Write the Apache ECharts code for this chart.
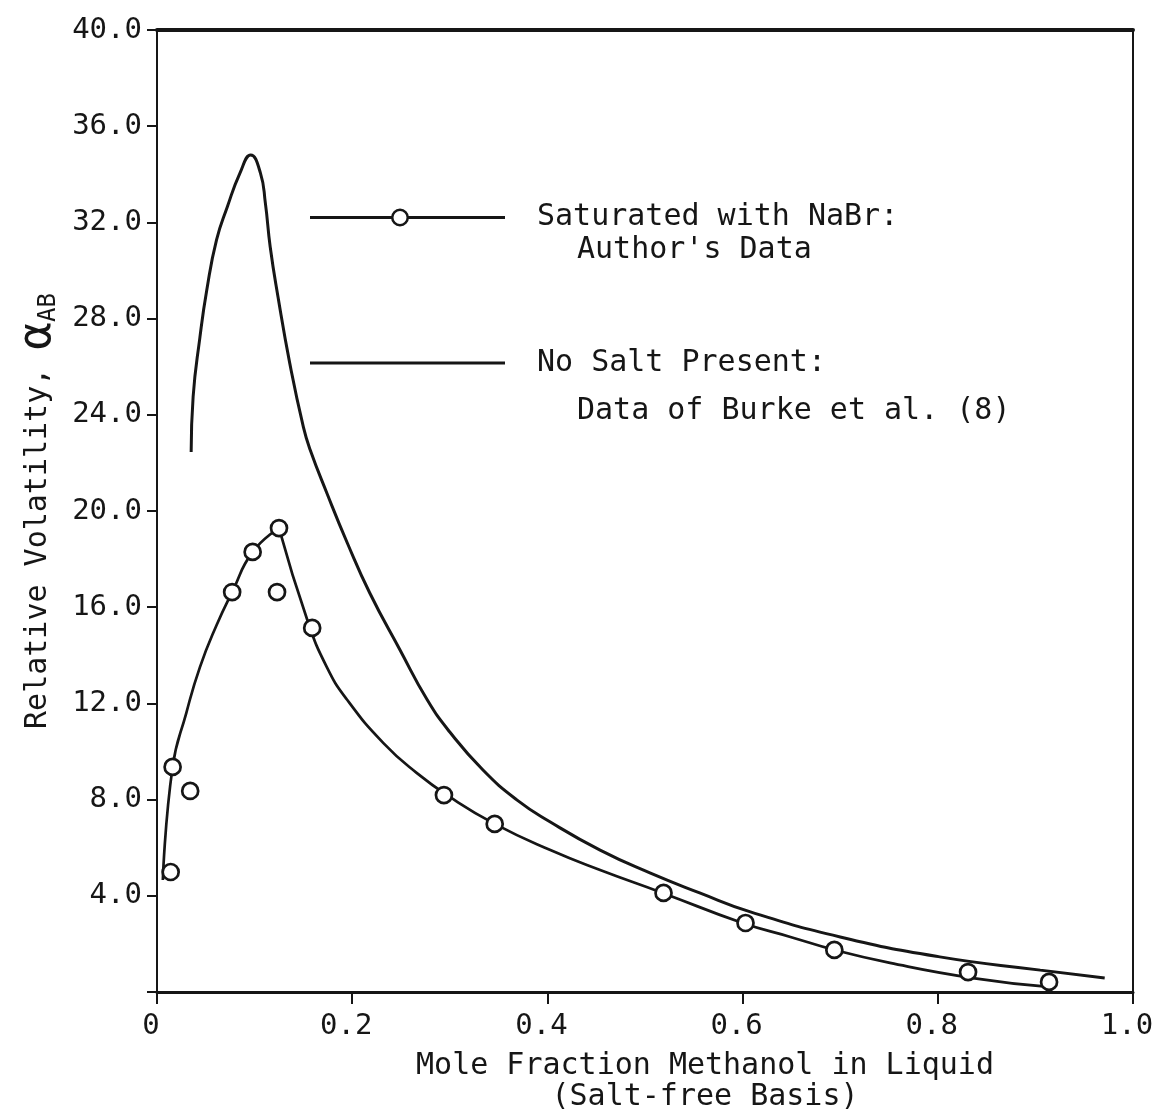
<!DOCTYPE html>
<html><head><meta charset="utf-8">
<script src="https://cdn.jsdelivr.net/npm/echarts@6/dist/echarts.min.js"></script>
<style>html,body{margin:0;padding:0;background:#fff;overflow:hidden}#c{width:1155px;height:1119px}</style>
</head><body><div id="c"></div>
<script>
// ---- tick labels ----
const xTickLabels = ['0', '0.2', '0.4', '0.6', '0.8', '1.0'];
const yTickLabels = ['', '4.0', '8.0', '12.0', '16.0', '20.0', '24.0', '28.0', '32.0', '36.0', '40.0'];

// ---- Saturated with NaBr: measured points ----
const nabrX = [0.014, 0.016, 0.034, 0.077, 0.098, 0.125, 0.123, 0.159, 0.294, 0.346, 0.519, 0.603, 0.694, 0.831, 0.914];
const nabrY = [4.99, 9.36, 8.36, 16.63, 18.30, 19.29, 16.63, 15.14, 8.19, 6.99, 4.12, 2.87, 1.75, 0.83, 0.42];

// ---- Saturated with NaBr: drawn curve (rising branch, falling branch) ----
const nabrRiseX = [0.006, 0.016, 0.030, 0.044, 0.061, 0.077, 0.098, 0.125];
const nabrRiseY = [4.66, 9.36, 11.60, 13.51, 15.25, 16.63, 18.30, 19.29];
const nabrFallX = [0.125, 0.154, 0.174, 0.195, 0.232, 0.266, 0.300, 0.346, 0.403, 0.454, 0.518, 0.600, 0.649, 0.694, 0.751, 0.836, 0.914];
const nabrFallY = [19.29, 15.47, 13.51, 12.14, 10.35, 9.11, 8.11, 6.99, 5.90, 5.07, 4.12, 2.87, 2.29, 1.75, 1.21, 0.58, 0.21];

// ---- No salt present: Burke et al. curve ----
const noSaltX = [0.035, 0.037, 0.044, 0.051, 0.061, 0.072, 0.085, 0.096, 0.106, 0.111, 0.116, 0.124, 0.136, 0.150, 0.157, 0.174, 0.195, 0.218, 0.249, 0.277, 0.300, 0.334, 0.369, 0.403, 0.454, 0.505, 0.556, 0.608, 0.700, 0.802, 0.905, 0.971];
const noSaltY = [22.45, 24.74, 27.23, 29.19, 31.27, 32.64, 34.05, 34.80, 34.05, 32.81, 30.98, 28.90, 26.15, 23.49, 22.54, 20.75, 18.67, 16.59, 14.22, 12.14, 10.81, 9.23, 7.98, 7.07, 5.90, 4.95, 4.12, 3.33, 2.29, 1.46, 0.91, 0.58];

const zip = (xs, ys) => xs.map((x, i) => [x, ys[i]]);
const FONT = 'DejaVu Sans Mono';
const INK = '#161616';
const NABR = 'Saturated with NaBr';
const NOSALT = 'No Salt Present';

const chart = echarts.init(document.getElementById('c'), null, {renderer: 'canvas'});
chart.setOption({
  backgroundColor: '#ffffff',
  animation: false,
  textStyle: {fontFamily: FONT, color: INK},
  grid: {left: 157, right: 22, top: 30, bottom: 127, containLabel: false, outerBoundsMode: 'none',
         show: true, borderColor: INK, borderWidth: 2, backgroundColor: 'transparent'},
  legend: [
    {
      data: [{name: NABR, icon: 'path://M0,8.5 L82,8.5 L82,11.5 L0,11.5 Z M98,8.5 L195,8.5 L195,11.5 L98,11.5 Z M81,10 A9,9 0 1,1 99,10 A9,9 0 1,1 81,10 Z M83.5,10 A6.5,6.5 0 1,0 96.5,10 A6.5,6.5 0 1,0 83.5,10 Z'}],
      left: 310, top: 202.5, padding: 0, itemWidth: 195, itemHeight: 20, symbolKeepAspect: true,
      selectedMode: false, itemStyle: {color: INK, borderWidth: 0},
      formatter: () => '{a|Saturated with NaBr:}\n{b|Author\'s Data}',
      textStyle: {fontFamily: FONT, fontSize: 30, color: INK, padding: [33, 0, 0, 27],
        rich: {a: {fontFamily: FONT, fontSize: 30, lineHeight: 33, color: INK},
               b: {fontFamily: FONT, fontSize: 30, lineHeight: 33, color: INK, padding: [0, 0, 0, 40]}}}
    },
    {
      data: [{name: NOSALT, icon: 'path://M0,0 L195,0 L195,3 L0,3 Z'}],
      left: 310, top: 348, padding: 0, itemWidth: 195, itemHeight: 20, symbolKeepAspect: true,
      selectedMode: false, itemStyle: {color: INK, borderWidth: 0},
      formatter: () => '{a|No Salt Present:}\n{b|Data of Burke et al. (8)}',
      textStyle: {fontFamily: FONT, fontSize: 30, color: INK, padding: [48, 0, 0, 27],
        rich: {a: {fontFamily: FONT, fontSize: 30, lineHeight: 48, color: INK},
               b: {fontFamily: FONT, fontSize: 30, lineHeight: 48, color: INK, padding: [0, 0, 0, 40]}}}
    }
  ],
  xAxis: [
    {
      type: 'value', min: 0, max: 1, interval: 0.2, position: 'bottom',
      axisLine: {show: true, onZero: false, lineStyle: {color: INK, width: 3}},
      axisTick: {show: true, inside: false, length: 12, lineStyle: {color: INK, width: 2}},
      splitLine: {show: false},
      axisLabel: {margin: 20, fontFamily: FONT, fontSize: 29, color: INK, padding: [0, 12, 0, 0],
        formatter: (v) => xTickLabels[Math.round(v / 0.2)]},
      name: '{a|Mole Fraction Methanol in Liquid}\n{a|(Salt-free Basis)}',
      nameLocation: 'middle', nameGap: 59,
      nameTextStyle: {fontFamily: FONT, fontSize: 30, color: INK, padding: [0, 0, 0, 120],
        rich: {a: {fontFamily: FONT, fontSize: 30, lineHeight: 31, color: INK}}}
    },
    {
      type: 'value', min: 0, max: 1, interval: 0.2, position: 'top',
      axisLine: {show: true, onZero: false, lineStyle: {color: INK, width: 4}},
      axisTick: {show: false}, axisLabel: {show: false}, splitLine: {show: false}
    }
  ],
  yAxis: {
    type: 'value', min: 0, max: 40, interval: 4,
    axisLine: {show: true, onZero: false, lineStyle: {color: INK, width: 2}},
    axisTick: {show: true, inside: false, length: 10, lineStyle: {color: INK, width: 2}},
    splitLine: {show: false},
    axisLabel: {margin: 15, fontFamily: FONT, fontSize: 29, color: INK,
      formatter: (v) => yTickLabels[Math.round(v / 4)]},
    name: '{t|Relative Volatility, }{al|α}{sub|AB}',
    nameLocation: 'middle', nameGap: 96, nameRotate: 90,
    nameTextStyle: {fontFamily: FONT, color: INK,
      rich: {t: {fontFamily: FONT, fontSize: 30, color: INK},
             al: {fontFamily: FONT, fontSize: 46, color: INK},
             sub: {fontFamily: FONT, fontSize: 24, color: INK, verticalAlign: 'bottom'}}}
  },
  series: [
    {
      name: NOSALT, type: 'line', data: zip(noSaltX, noSaltY), smooth: 0.5,
      symbol: 'none', lineStyle: {color: INK, width: 3}, itemStyle: {color: INK}, z: 2
    },
    {
      name: NABR, type: 'line',
      data: zip(nabrRiseX, nabrRiseY).concat([[null, null]], zip(nabrFallX, nabrFallY)),
      smooth: 0.5, connectNulls: false,
      symbol: 'none', lineStyle: {color: INK, width: 2.7}, itemStyle: {color: INK}, z: 2
    },
    {
      name: NABR, type: 'scatter', data: zip(nabrX, nabrY),
      symbol: 'circle', symbolSize: 16,
      itemStyle: {color: '#ffffff', borderColor: INK, borderWidth: 2.7, opacity: 1}, z: 3
    }
  ]
});
</script></body></html>
